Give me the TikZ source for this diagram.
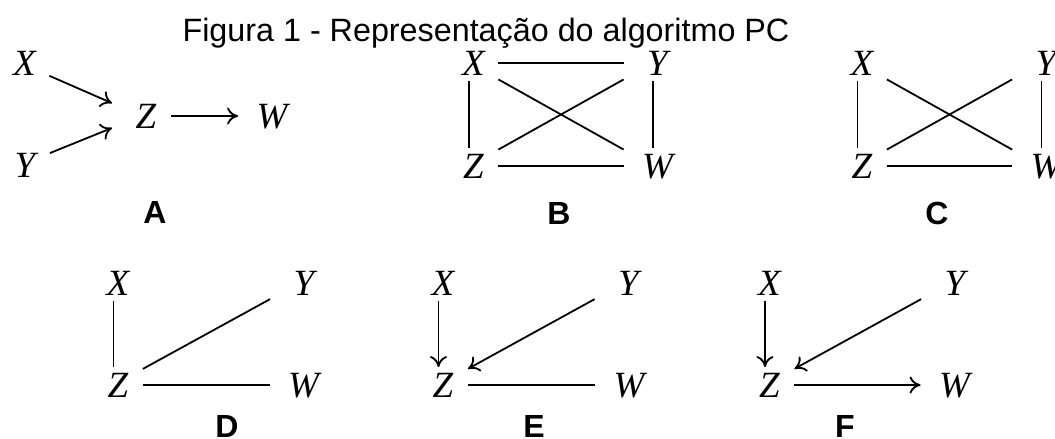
\documentclass[tikz,border=0pt]{standalone}
\usepackage{fontspec}
\setmainfont{Liberation Sans}
\newfontfamily\pcvarfont{Liberation Serif}
\usetikzlibrary{arrows.meta}

\begin{document}
\begin{tikzpicture}[x=1pt,y=-1pt,line width=1.8pt,
    >={Computer Modern Rightarrow[length=11pt,width=17pt]},
    pcvar/.style={font=\pcvarfont\itshape\fontsize{37}{37}\selectfont,minimum width=57pt,minimum height=34pt,inner sep=0pt,text depth=0pt,execute at begin node={\hspace*{9pt}}},
    panel/.style={anchor=base,font=\bfseries\fontsize{32}{32}\selectfont}]
    \useasboundingbox (0,0) rectangle (1055,439);
    \node[anchor=base,font=\fontsize{32.3}{36}\selectfont] (title) at (486,41) {Figura 1 - Representação do algoritmo PC};

    % A
    \node[pcvar] (xa) at (20,63) {X};
    \node[pcvar] (ya) at (20.5,165) {Y};
    \node[pcvar] (za) at (141.5,116) {Z};
    \node[pcvar] (wa) at (267.5,116) {W};
    \node[panel] (la) at (155,223) {A};
    \draw[->] (xa) -- (za);
    \draw[->] (ya) -- (za);
    \draw[->] (za) -- (wa);

    % B
    \node[pcvar] (xb) at (469,63) {X};
    \node[pcvar] (yb) at (653,63) {Y};
    \node[pcvar] (zb) at (469,166) {Z};
    \node[pcvar] (wb) at (653,166) {W};
    \node[panel] (lb) at (559,224) {B};
    \draw (xb) -- (yb);
    \draw (xb) -- (zb);
    \draw (yb) -- (wb);
    \draw (zb) -- (wb);
    \draw (xb) -- (wb);
    \draw (zb) -- (yb);

    % C
    \node[pcvar] (xc) at (857.5,63) {X};
    \node[pcvar] (yc) at (1041.5,63) {Y};
    \node[pcvar] (zc) at (857.5,166) {Z};
    \node[pcvar] (wc) at (1041.5,166) {W};
    \node[panel] (lc) at (937,224) {C};
    \draw (xc) -- (zc);
    \draw (yc) -- (wc);
    \draw (zc) -- (wc);
    \draw (xc) -- (wc);
    \draw (zc) -- (yc);

    % D
    \node[pcvar] (xd) at (113.5,283) {X};
    \node[pcvar] (yd) at (299.5,283) {Y};
    \node[pcvar] (zd) at (113.5,385) {Z};
    \node[pcvar] (wd) at (299,385) {W};
    \node[panel] (ld) at (227,437) {D};
    \draw (xd) -- (zd);
    \draw (zd) -- (yd);
    \draw (zd) -- (wd);

    % E
    \node[pcvar] (xe) at (438.5,283) {X};
    \node[pcvar] (ye) at (624,283) {Y};
    \node[pcvar] (ze) at (438.5,385) {Z};
    \node[pcvar] (we) at (624.5,385) {W};
    \node[panel] (le) at (534,437) {E};
    \draw[->] (xe) -- (ze);
    \draw[->] (ye) -- (ze);
    \draw (ze) -- (we);

    % F
    \node[pcvar] (xf) at (765,283) {X};
    \node[pcvar] (yf) at (950.5,283) {Y};
    \node[pcvar] (zf) at (765,385) {Z};
    \node[pcvar] (wf) at (950,385) {W};
    \node[panel] (lf) at (845,437) {F};
    \draw[->] (xf) -- (zf);
    \draw[->] (yf) -- (zf);
    \draw[->] (zf) -- (wf);
\end{tikzpicture}
\end{document}
